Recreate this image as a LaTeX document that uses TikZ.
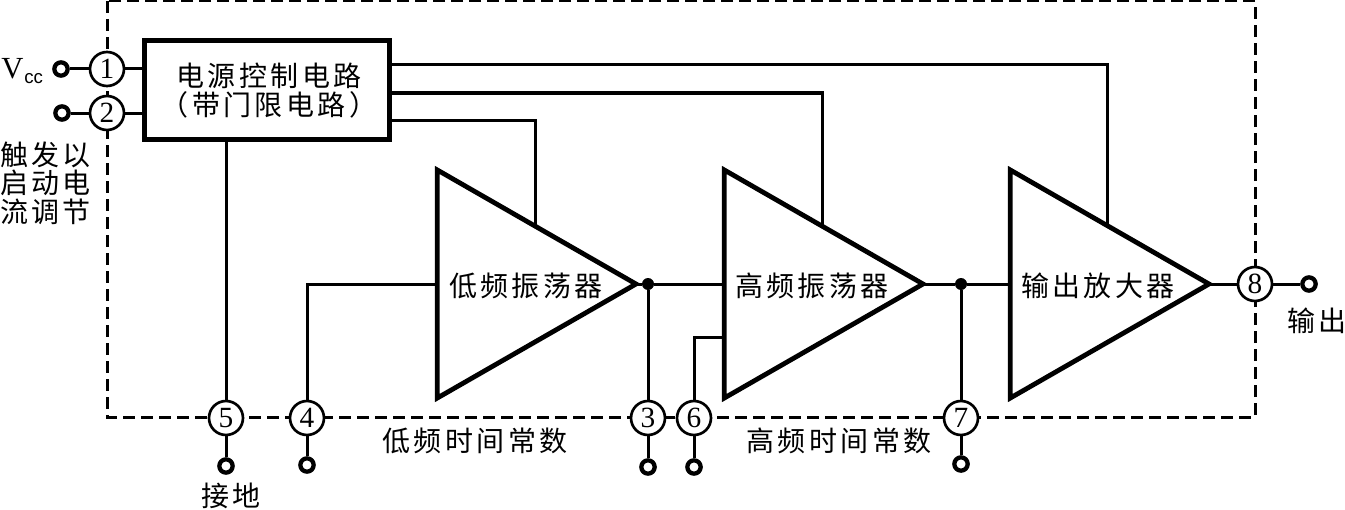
\documentclass[tikz,border=0pt]{standalone}
\usepackage{fontspec}
\usetikzlibrary{shapes.geometric}
\setmainfont{Liberation Serif}
\newfontfamily\zhfont[LetterSpace=12]{Noto Sans CJK SC}
\newfontfamily\plainsans{Liberation Sans}
\tikzset{
  x=0.75pt,y=-0.75pt,
  wire/.style={line width=2.25pt,draw=black},
  frame/.style={line width=2.25pt,draw=black,dash pattern=on 9pt off 4.5pt},
  pin/.style={circle,draw=black,line width=2pt,fill=white,minimum size=25.5pt,inner sep=0pt,font=\fontsize{22}{22}\selectfont},
  term/.style={circle,draw=black,line width=3.2pt,fill=white,minimum size=10pt,inner sep=0pt},
  dot/.style={circle,fill=black,minimum size=9pt,inner sep=0pt},
  ctrl/.style={rectangle,draw=black,line width=3.8pt,fill=white,minimum width=183.75pt,minimum height=74.25pt,inner sep=0pt},
  amp/.style={isosceles triangle,isosceles triangle apex angle=59.6,isosceles triangle stretches,draw=black,line width=3.6pt,fill=white,minimum width=171pt,minimum height=149pt,inner sep=0pt,anchor=apex,outer sep=0pt},
  zh/.style={font=\zhfont\fontsize{21}{21}\selectfont,inner sep=0pt},
}
\begin{document}
\begin{tikzpicture}
\useasboundingbox (0,0) rectangle (1345,510);
% frame
\draw[frame] (107,1) rectangle (1255,417);
% blocks
\node[ctrl] (box) at (267,90) {};
\node[amp] (ta) at (636,284) {};
\node[amp] (tb) at (923,284) {};
\node[amp] (tc) at (1209,284) {};
\node[dot] (d1) at (648,284) {};
\node[dot] (d2) at (961,284) {};
% pins
\node[pin] (p1) at (107,69) {1};
\node[pin] (p2) at (107,113) {2};
\node[pin] (p5) at (226,418) {5};
\node[pin] (p4) at (307,418) {4};
\node[pin] (p3) at (648,418) {3};
\node[pin] (p6) at (694,418) {6};
\node[pin] (p7) at (961,418) {7};
\node[pin] (p8) at (1255,284) {8};
% terminals
\node[term] (t1) at (61,69) {};
\node[term] (t2) at (62,113) {};
\node[term] (t5) at (226,466) {};
\node[term] (t4) at (307,465) {};
\node[term] (t3) at (648,467) {};
\node[term] (t6) at (694,467) {};
\node[term] (t7) at (961,464) {};
\node[term] (t8) at (1309,284) {};
% connection points
\coordinate (bo1) at (390,65);
\coordinate (bo2) at (390,93);
\coordinate (bo3) at (390,120);
\coordinate (ia) at (535,225);
\coordinate (ib) at (822,225);
\coordinate (ic) at (1107,225);
\coordinate (la) at (437,284);
\coordinate (lb) at (724,284);
\coordinate (lb2) at (724,337);
\coordinate (lc) at (1010,284);
\coordinate (bl1) at (143,69);
\coordinate (bl2) at (143,113);
\coordinate (bb) at (226,138);
% connectors
\draw[wire] (t1) -- (p1);
\draw[wire] (p1) -- (bl1);
\draw[wire] (t2) -- (p2);
\draw[wire] (p2) -- (bl2);
\draw[wire] (bb) -- (p5);
\draw[wire] (p5) -- (t5);
\draw[wire] (p4) -- (t4);
\draw[wire] (p3) -- (t3);
\draw[wire] (p6) -- (t6);
\draw[wire] (p7) -- (t7);
\draw[wire] (p4) |- (la);
\draw[wire] (bo3) -| (ia);
\draw[wire] (bo2) -| (ib);
\draw[wire] (bo1) -| (ic);
\draw[wire] (ta.apex) -- (d1);
\draw[wire] (d1) -- (lb);
\draw[wire] (d1) -- (p3);
\draw[wire] (tb.apex) -- (d2);
\draw[wire] (d2) -- (lc);
\draw[wire] (d2) -- (p7);
\draw[wire] (p6) |- (lb2);
\draw[wire] (tc.apex) -- (p8);
\draw[wire] (p8) -- (t8);
% texts
\node[zh] (l1) at (269,76) {电源控制电路};
\node[zh] (l2) at (269,105) {（带门限电路）};
\node[zh] (la1) at (526,286) {低频振荡器};
\node[zh] (lb1) at (812,286) {高频振荡器};
\node[zh] (lc1) at (1098,286) {输出放大器};
\node[zh,anchor=west] (s1) at (0,155) {触发以};
\node[zh,anchor=west] (s2) at (0,183) {启动电};
\node[zh,anchor=west] (s3) at (0,212) {流调节};
\node[zh] (g1) at (231,496) {接地};
\node[zh,anchor=east] (o1) at (1347,321) {输出};
\node[zh] (c1) at (475,441) {低频时间常数};
\node[zh] (c2) at (839,441) {高频时间常数};
\node[inner sep=0pt,anchor=west,font=\fontsize{23}{23}\selectfont] (v1) at (1,69) {V};
\node[inner sep=0pt,anchor=west,font=\plainsans\fontsize{14}{14}\selectfont] (v2) at (24,79) {cc};
\end{tikzpicture}
\end{document}
